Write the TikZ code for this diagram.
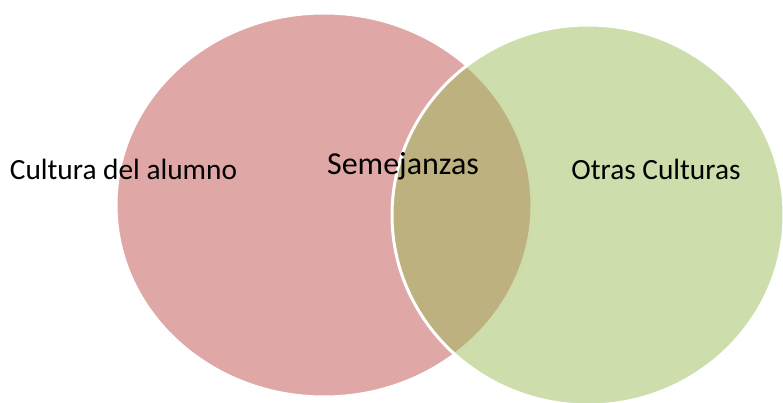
\documentclass[tikz,border=0pt]{standalone}
\usepackage{fontspec}
\setmainfont{Carlito}
\definecolor{culturared}{HTML}{C0504D}
\definecolor{otrasgreen}{HTML}{9BBB59}

\begin{document}
\begin{tikzpicture}[x=0.75pt,y=-0.75pt,
    venn/.style={fill opacity=0.5,draw=white,line width=2.25pt},
    venntext/.style={anchor=base,inner sep=0,font=\fontsize{22pt}{26pt}\selectfont}]
    \pgfmathsetmacro{\leftrx}{208}   % left ellipse, in pixels
    \pgfmathsetmacro{\leftry}{192}
    \pgfmathsetmacro{\rightrx}{196}  % right ellipse
    \pgfmathsetmacro{\rightry}{190}
    \useasboundingbox (0,0) rectangle (783,403);
    \draw[venn,fill=culturared] (324,205) ellipse [x radius=\leftrx, y radius=\leftry];
    \draw[venn,fill=otrasgreen] (588,215) ellipse [x radius=\rightrx, y radius=\rightry];
    \node[venntext] (alumno) at (123.5,180) {Cultura del alumno};
    \node[venntext,font=\fontsize{24pt}{28pt}\selectfont] (semejanzas) at (403,175) {Semejanzas};
    \node[venntext] (otras) at (656,180) {Otras Culturas};
\end{tikzpicture}
\end{document}
